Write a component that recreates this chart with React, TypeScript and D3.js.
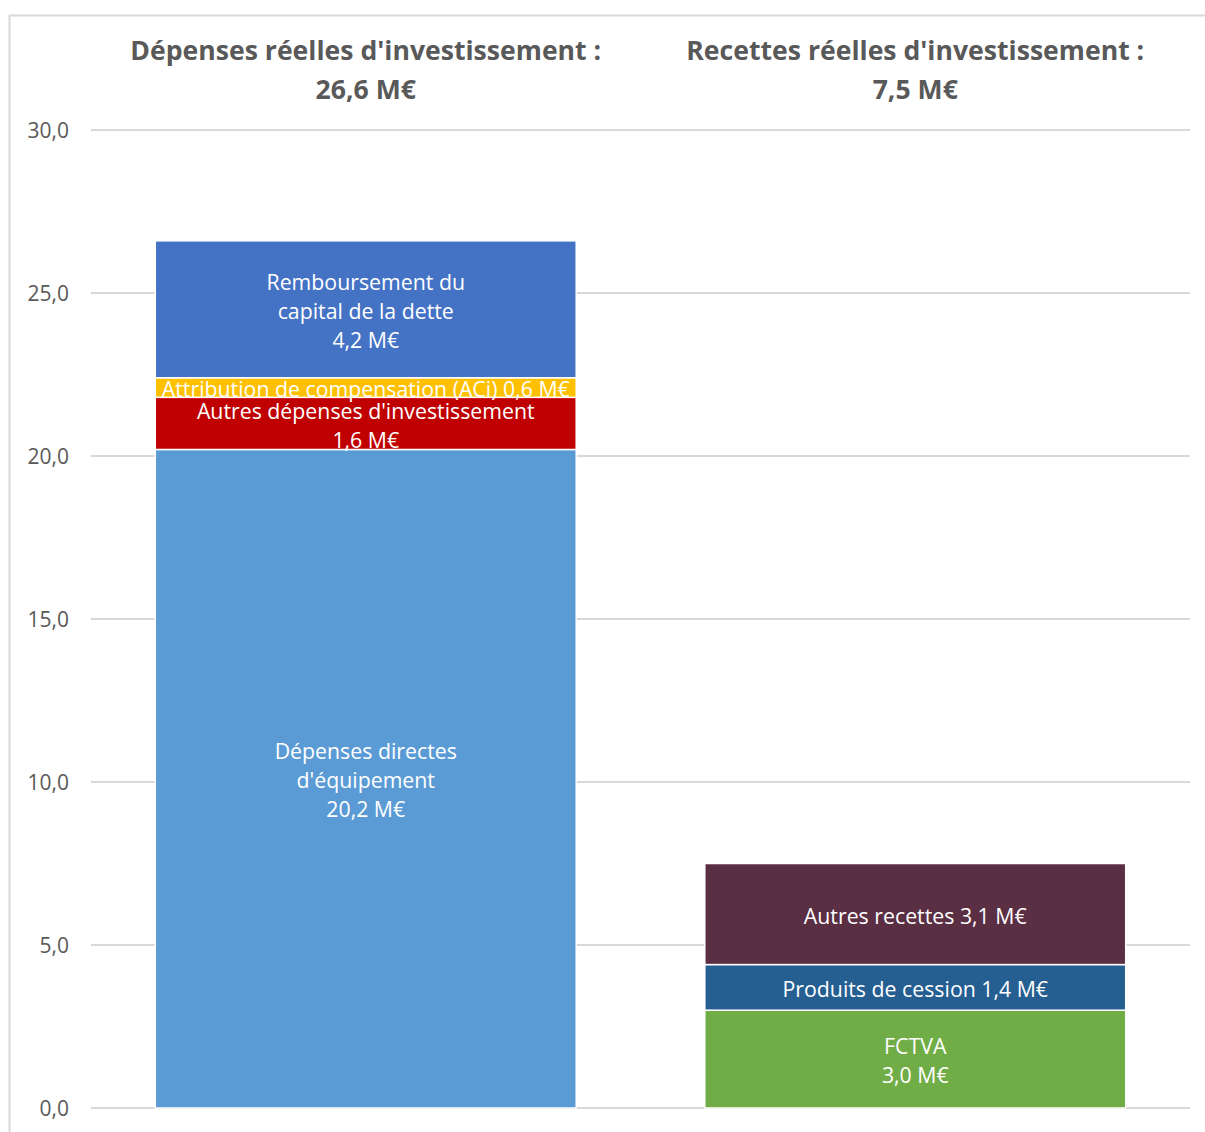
import React, { useEffect, useRef } from 'react';
import * as d3 from 'd3';

const categories = ["Dépenses réelles d'investissement :", "Recettes réelles d'investissement :"];
const categoryTotals = ['26,6 M€', '7,5 M€'];

// stacks, bottom to top
const depensesValues = [20.2, 1.6, 0.6, 4.2];
const depensesColors = ['#5B9BD5', '#C00000', '#FFC000', '#4472C4'];
const depensesLabels = [
    ['Dépenses directes', "d'équipement", '20,2 M€'],
    ["Autres dépenses d'investissement", '1,6 M€'],
    ['Attribution de compensation (ACi) 0,6 M€'],
    ['Remboursement du', 'capital de la dette', '4,2 M€'],
];

const recettesValues = [3.0, 1.4, 3.1];
const recettesColors = ['#70AD47', '#255E91', '#5A2E43'];
const recettesLabels = [
    ['FCTVA', '3,0 M€'],
    ['Produits de cession 1,4 M€'],
    ['Autres recettes 3,1 M€'],
];

const yTicks = [0, 5, 10, 15, 20, 25, 30];

const W = 1205;
const H = 1132;
const FONT = '"Open Sans", Lato, sans-serif';

const App: React.FC = () => {
    const svgRef = useRef<SVGSVGElement>(null);

    useEffect(() => {
        if (!svgRef.current) return;
        const svg = d3.select(svgRef.current);
        svg.selectAll('*').remove();

        const x = d3.scaleBand<string>()
            .domain(categories)
            .range([91, 1190])
            .paddingInner(0.234)
            .paddingOuter(0.117);
        const y = d3.scaleLinear().domain([0, 30]).range([1108, 130]);

        // chart border
        svg.append('rect')
            .attr('x', 9.5)
            .attr('y', 15.5)
            .attr('width', W + 20)
            .attr('height', H + 20)
            .attr('fill', 'white')
            .attr('stroke', '#D9D9D9')
            .attr('stroke-width', 2);

        // grid lines
        svg.append('g')
            .selectAll('line')
            .data(yTicks)
            .join('line')
            .attr('x1', 91)
            .attr('x2', 1190)
            .attr('y1', d => y(d))
            .attr('y2', d => y(d))
            .attr('stroke', '#D9D9D9')
            .attr('stroke-width', 2);

        // tick labels
        svg.append('g')
            .selectAll('text')
            .data(yTicks)
            .join('text')
            .attr('x', 69)
            .attr('y', d => y(d))
            .attr('dy', '0.36em')
            .attr('text-anchor', 'end')
            .attr('fill', '#595959')
            .attr('font-family', FONT)
            .attr('font-size', 21)
            .text(d => d3.format('.1f')(d).replace('.', ','));

        const stacks = [
            { cat: categories[0], values: depensesValues, colors: depensesColors, labels: depensesLabels },
            { cat: categories[1], values: recettesValues, colors: recettesColors, labels: recettesLabels },
        ];

        stacks.forEach(s => {
            const x0 = x(s.cat) as number;
            const bw = x.bandwidth();
            const cx = x0 + bw / 2;
            let acc = 0;
            s.values.forEach((v, i) => {
                const top = y(acc + v);
                const bot = y(acc);
                acc += v;
                svg.append('rect')
                    .attr('x', x0)
                    .attr('y', top)
                    .attr('width', bw)
                    .attr('height', bot - top)
                    .attr('fill', s.colors[i])
                    .attr('stroke', 'white')
                    .attr('stroke-width', 1.5);

                const lines = s.labels[i];
                const lh = 29;
                const mid = (top + bot) / 2 + 2;
                const t = svg.append('text')
                    .attr('text-anchor', 'middle')
                    .attr('fill', 'white')
                    .attr('font-family', FONT)
                    .attr('font-size', 21.3);
                lines.forEach((ln, j) => {
                    t.append('tspan')
                        .attr('x', cx)
                        .attr('y', mid + (j - (lines.length - 1) / 2) * lh)
                        .attr('dy', '0.36em')
                        .text(ln);
                });
            });
        });

        // category titles
        categories.forEach((c, i) => {
            const cx = (x(c) as number) + x.bandwidth() / 2;
            const t = svg.append('text')
                .attr('text-anchor', 'middle')
                .attr('fill', '#595959')
                .attr('font-family', FONT)
                .attr('font-weight', 'bold')
                .attr('font-size', 26.6);
            t.append('tspan').attr('x', cx).attr('y', 50).attr('dy', '0.36em').text(c);
            t.append('tspan').attr('x', cx).attr('y', 89).attr('dy', '0.36em').text(categoryTotals[i]);
        });
    }, []);

    return (
        <div style={{ position: 'absolute', left: 0, top: 0 }}>
            <svg ref={svgRef} width={W} height={H} style={{ display: 'block' }} />
        </div>
    );
};

export default App;
